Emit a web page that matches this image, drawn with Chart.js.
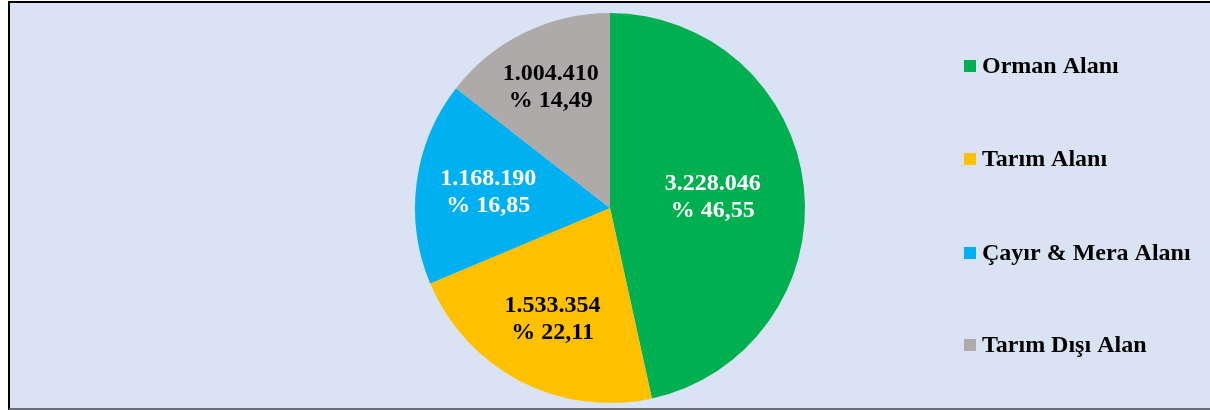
<!DOCTYPE html>
<html>
<head>
<meta charset="utf-8">
<script src="https://cdn.jsdelivr.net/npm/chart.js@4.4.1/dist/chart.umd.min.js"></script>
<style>
    html, body { margin: 0; padding: 0; background: #ffffff; }
    #frame {
        position: absolute; left: 8px; top: 1px; width: 1200px; height: 405px;
        background: #dae3f3;
        border-left: 2px solid #000; border-top: 2px solid #000;
        border-bottom: 2px solid #6a6d72; border-right: 1px solid #c8cdd6;
    }
    #wrap { position: absolute; left: 0; top: 0; width: 1210px; height: 410px; }
</style>
</head>
<body>
<div id="frame"></div>
<div id="wrap"><canvas id="pieChart" width="1210" height="410"></canvas></div>
<script>
// veriler
const categories = ['Orman Alanı', 'Tarım Alanı', 'Çayır & Mera Alanı', 'Tarım Dışı Alan'];
const areaValues = [3228046, 1533354, 1168190, 1004410];
const percentLabels = ['% 46,55', '% 22,11', '% 16,85', '% 14,49'];
const sliceColors = ['#00b050', '#ffc000', '#00b0f0', '#aeaaaa'];
const labelColors = ['#ffffff', '#000000', '#ffffff', '#000000'];
const labelRadius = [0.53, 0.64, 0.63, 0.69]; // etiketin merkeze uzakligi (oran)

function formatTR(n) {
    return n.toString().replace(/\B(?=(\d{3})+(?!\d))/g, '.');
}

// etiketler ve lejant
const labelsPlugin = {
    id: 'labelsPlugin',
    afterDatasetsDraw(chart) {
        const ctx = chart.ctx;
        const meta = chart.getDatasetMeta(0);
        ctx.save();
        ctx.font = 'bold 24px "Liberation Serif", "Times New Roman", serif';
        ctx.textAlign = 'center';
        ctx.textBaseline = 'middle';
        meta.data.forEach((arc, i) => {
            const p = arc.getProps(['x', 'y', 'startAngle', 'endAngle', 'outerRadius'], true);
            const mid = (p.startAngle + p.endAngle) / 2;
            const r = p.outerRadius * labelRadius[i];
            const x = p.x + Math.cos(mid) * r;
            const y = p.y + Math.sin(mid) * r;
            ctx.fillStyle = labelColors[i];
            ctx.fillText(formatTR(areaValues[i]), x, y - 13);
            ctx.fillText(percentLabels[i], x, y + 14);
        });

        // lejant
        const legendY = [66, 159, 253, 345];
        ctx.textAlign = 'left';
        categories.forEach((c, i) => {
            ctx.fillStyle = sliceColors[i];
            ctx.fillRect(964, legendY[i] - 6, 12, 12);
            ctx.fillStyle = '#000000';
            ctx.fillText(c, 982, legendY[i] + 1);
        });
        ctx.restore();
    }
};

const ctx = document.getElementById('pieChart').getContext('2d');
new Chart(ctx, {
    type: 'pie',
    data: {
        labels: categories,
        datasets: [{
            data: areaValues,
            backgroundColor: sliceColors,
            borderWidth: 0
        }]
    },
    options: {
        responsive: false,
        animation: false,
        layout: { padding: { left: 415, right: 405, top: 13, bottom: 7 } },
        plugins: {
            legend: { display: false },
            tooltip: { enabled: false }
        }
    },
    plugins: [labelsPlugin]
});
</script>
</body>
</html>
